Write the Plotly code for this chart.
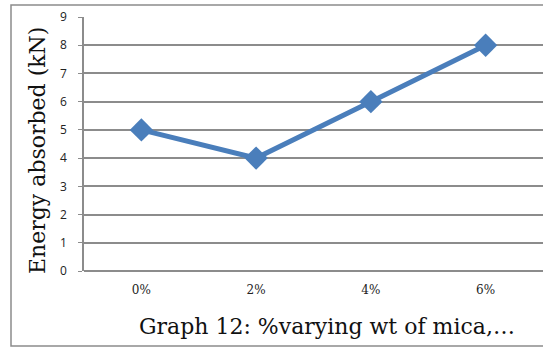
import plotly.graph_objects as go

# Mica content (wt %) and energy absorbed (kN)
mica_pct = ["0%", "2%", "4%", "6%"]
energy_kn = [5, 4, 6, 8]
y_ticks = [0, 1, 2, 3, 4, 5, 6, 7, 8, 9]

W, H = 543, 347
ML, MR, MT, MB = 84, 0, 17, 76
pw, ph = W - ML - MR, H - MT - MB


def px_to_paper_x(px):
    return (px - ML) / pw


def px_to_paper_y(py):
    return (H - MB - py) / ph


grid = "#8c8c8c"
serif = "DejaVu Serif"

fig = go.Figure(
    go.Scatter(
        x=mica_pct,
        y=energy_kn,
        mode="lines+markers",
        line=dict(color="#4a7ebb", width=5),
        marker=dict(symbol="diamond", size=18, color="#4a7ebb"),
        showlegend=False,
    )
)

fig.update_layout(
    width=W,
    height=H,
    margin=dict(l=ML, r=MR, t=MT, b=MB),
    plot_bgcolor="white",
    paper_bgcolor="white",
    xaxis=dict(
        type="category",
        range=[-0.5, 3.5],
        showgrid=False,
        zeroline=False,
        showline=False,
        ticks="",
        tickfont=dict(family=serif, size=12, color="#222"),
        ticklabelstandoff=10,
    ),
    yaxis=dict(
        range=[0, 9],
        tickvals=y_ticks,
        showgrid=True,
        gridcolor=grid,
        gridwidth=1.5,
        zeroline=True,
        zerolinecolor=grid,
        zerolinewidth=1.5,
        showline=True,
        linecolor=grid,
        linewidth=1.5,
        ticks="outside",
        ticklen=4,
        tickcolor=grid,
        tickfont=dict(family="Open Sans", size=12, color="#222"),
        ticklabelstandoff=9,
    ),
    shapes=[
        dict(
            type="rect",
            xref="paper",
            yref="paper",
            x0=px_to_paper_x(11),
            x1=px_to_paper_x(560),
            y0=px_to_paper_y(346),
            y1=px_to_paper_y(5),
            line=dict(color=grid, width=1.5),
            fillcolor="rgba(0,0,0,0)",
            layer="below",
        )
    ],
    annotations=[
        dict(
            text="Energy absorbed (kN)",
            xref="paper",
            yref="paper",
            x=px_to_paper_x(37),
            y=px_to_paper_y(151),
            xanchor="center",
            yanchor="middle",
            textangle=-90,
            showarrow=False,
            font=dict(family=serif, size=22, color="#111"),
        ),
        dict(
            text="Graph 12: %varying wt of mica,…",
            xref="paper",
            yref="paper",
            x=px_to_paper_x(327),
            y=px_to_paper_y(326),
            xanchor="center",
            yanchor="middle",
            showarrow=False,
            font=dict(family=serif, size=22, color="#111"),
        ),
    ],
)

fig.write_html("out.html")
